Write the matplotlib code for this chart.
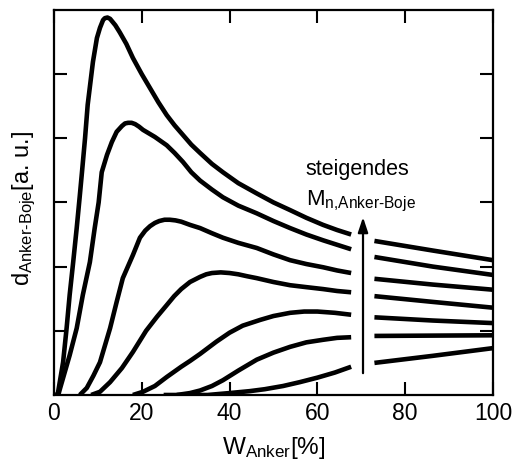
import matplotlib
matplotlib.use("Agg")
from matplotlib import pyplot as plt

plt.rcParams['font.family'] = ['Liberation Sans', 'DejaVu Sans']
plt.rcParams['mathtext.fontset'] = 'custom'
plt.rcParams['mathtext.rm'] = 'Liberation Sans'
plt.rcParams['mathtext.it'] = 'Liberation Sans:italic'
plt.rcParams['mathtext.default'] = 'regular'

# Curves, from the highest peak (top) down to the lowest M.
# Each curve is split around the arrow: left part up to ~68 %, right part from ~73 %.
left_x = [
    [0.5, 0.9, 2.1, 2.9, 3.6, 4.4, 5.2, 5.9, 6.4, 7.1, 7.7, 8.9, 9.8, 10.5, 11.2, 11.6, 12.2, 12.8,
     13.4, 14, 15, 16.5, 18, 20, 21.9, 23.8, 25.7, 27.5, 29.4, 31.3, 33.3, 36, 38.5, 42, 46.2, 50,
     53.8, 57.5, 61.3, 64.5, 67.7],
    [1.0, 1.4, 3.6, 5.2, 6.6, 8.2, 9.3, 10.2, 10.9, 12.1, 13.2, 14.3, 15.5, 16.2, 16.9, 17.7,
     18.5, 19.4, 20.3, 23, 25.7, 27.5, 29.4, 31.3, 33.3, 36, 38.5, 42, 46.2, 50, 53.8, 57.5, 61.3,
     64.5, 67.7],
    [5.9, 7.5, 9, 10.5, 12.8, 14.3, 15.7, 18, 19.6, 20.8, 21.9, 23, 24, 25.2, 26.4, 27.7, 29, 31,
     33.3, 36, 38.5, 42, 46.2, 50, 53.8, 57.5, 61.3, 64.5, 67.7],
    [8.5, 10.5, 12.8, 15.5, 18, 21, 23.5, 25.7, 27.4, 29, 31, 33.3, 34.7, 36, 38, 40, 42, 44, 46.2,
     50, 53.8, 57.5, 61.3, 64.5, 67.7],
    [18, 20.3, 23, 25.7, 29, 31, 33.3, 37, 40, 43, 47, 50, 53.8, 57, 60, 64, 67.7],
    [28, 31, 33.3, 36, 38.5, 42, 46.2, 50, 53.8, 57.5, 61.3, 64.5, 67.7],
    [25, 35, 40, 44.6, 48, 52.2, 56, 60, 64, 67.7],
]
left_y = [
    [0.0, 0.02, 0.51, 1.04, 1.56, 2.07, 2.6, 3.1, 3.47, 4.0, 4.52, 5.19, 5.56, 5.72, 5.84, 5.87,
     5.88, 5.86, 5.81, 5.76, 5.65, 5.47, 5.25, 5.0, 4.78, 4.56, 4.36, 4.2, 4.05, 3.9, 3.77, 3.6,
     3.47, 3.3, 3.14, 3.0, 2.88, 2.76, 2.65, 2.57, 2.50],
    [0.0, 0.1, 0.62, 1.04, 1.56, 2.07, 2.6, 3.0, 3.47, 3.74, 3.94, 4.1, 4.19, 4.23, 4.24, 4.24,
     4.22, 4.18, 4.13, 4.02, 3.89, 3.77, 3.63, 3.47, 3.34, 3.2, 3.08, 2.95, 2.83, 2.71, 2.6, 2.5,
     2.41, 2.34, 2.27],
    [0.0, 0.11, 0.3, 0.51, 1.04, 1.45, 1.82, 2.18, 2.45, 2.56, 2.63, 2.68, 2.71, 2.73, 2.73, 2.72,
     2.70, 2.65, 2.6, 2.52, 2.45, 2.37, 2.29, 2.19, 2.1, 2.04, 1.99, 1.94, 1.9],
    [0.0, 0.05, 0.2, 0.42, 0.67, 1.0, 1.22, 1.4, 1.54, 1.65, 1.76, 1.84, 1.88, 1.9, 1.91, 1.9,
     1.88, 1.85, 1.82, 1.76, 1.71, 1.68, 1.65, 1.62, 1.6],
    [0.0, 0.05, 0.14, 0.28, 0.44, 0.53, 0.64, 0.83, 0.97, 1.08, 1.17, 1.23, 1.28, 1.3, 1.3, 1.28,
     1.25],
    [0.0, 0.03, 0.07, 0.14, 0.23, 0.38, 0.55, 0.66, 0.75, 0.82, 0.86, 0.89, 0.9],
    [0.0, 0.0, 0.03, 0.06, 0.09, 0.14, 0.2, 0.27, 0.35, 0.44],
]
right_x = [73, 86.3, 100]
right_y = [
    [2.40, 2.25, 2.10],
    [2.15, 2.00, 1.87],
    [1.81, 1.72, 1.64],
    [1.54, 1.45, 1.36],
    [1.21, 1.16, 1.12],
    [0.92, 0.925, 0.93],
    [0.50, 0.61, 0.73],
]

arrow_x = 70.4
arrow_y = [0.34, 2.77]

fig = plt.figure(figsize=(5.13, 4.68), dpi=100)
ax = fig.add_axes([0.105, 0.156, 0.856, 0.823])

# Draw curves
for xs, ys in zip(left_x, left_y):
    ax.plot(xs, ys, color='black', lw=3.3, solid_capstyle='butt', solid_joinstyle='round')
for ys in right_y:
    ax.plot(right_x, ys, color='black', lw=3.3, solid_capstyle='butt', solid_joinstyle='round')

# Arrow showing increasing M
ax.annotate('', xy=(arrow_x, arrow_y[1]), xytext=(arrow_x, arrow_y[0]),
            arrowprops=dict(arrowstyle='-|>,head_length=0.9,head_width=0.3',
                            color='black', lw=1.6, shrinkA=0, shrinkB=0))
ax.text(57.4, 3.43, 'steigendes', fontsize=15.5, ha='left', va='baseline')
ax.text(57.4, 2.96, r'M$_{\text{n,Anker-Boje}}$', fontsize=16, ha='left', va='baseline')

ax.set_xlim(0, 100)
ax.set_ylim(0, 6)
ax.set_xticks([0, 20, 40, 60, 80, 100])
ax.set_yticks([1, 2, 3, 4, 5])
ax.set_yticklabels([])
ax.tick_params(direction='in', length=9.5, width=1.5, top=True, right=True,
               labelsize=16.5, pad=5)
for s in ax.spines.values():
    s.set_linewidth(1.6)

ax.set_xlabel(r'$\mathregular{W_{\text{Anker}}}$[%]', fontsize=17.5, labelpad=7)
ax.set_ylabel(r'd$_{\text{Anker-Boje}}$[a. u.]', fontsize=17)
ax.yaxis.set_label_coords(-0.036, 0.485)

fig.savefig('out.png', dpi=100)
